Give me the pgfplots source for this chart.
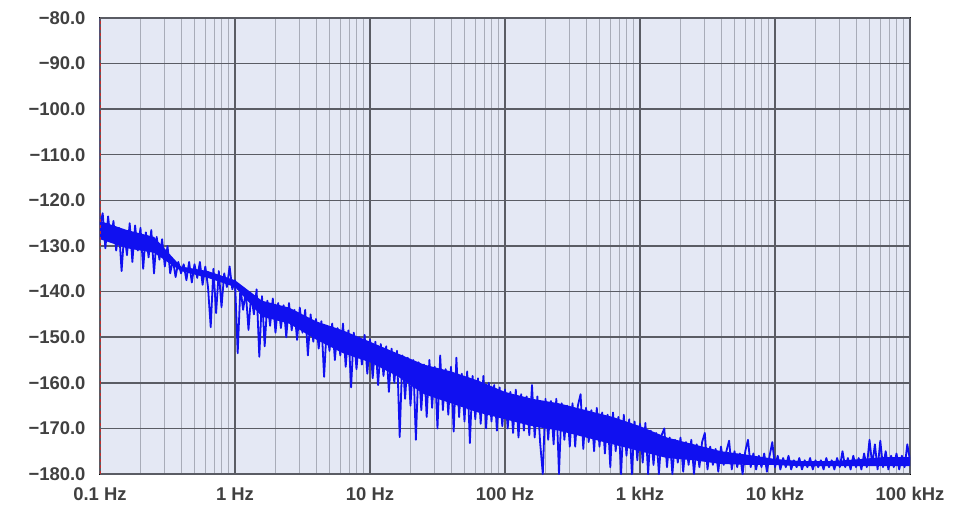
\documentclass[border=0pt]{standalone}
\usepackage{pgfplots}
\pgfplotsset{compat=1.18}
\usepackage{fontspec}
\setmainfont{Liberation Sans}
\definecolor{plotbg}{HTML}{E4E8F4}
\definecolor{majgrid}{HTML}{5A5C64}
\definecolor{mingrid}{HTML}{A8ACB8}
\definecolor{trace}{HTML}{1010F0}
\definecolor{markerred}{HTML}{C03030}

\begin{document}
\begin{tikzpicture}[x=1bp,y=1bp]
\begin{axis}[
    at={(0,0)}, anchor=south west,
    scale only axis,
    width=810bp, height=456bp,
    xmode=log, log basis x=10,
    xmin=0.1, xmax=100000,
    ymin=-180, ymax=-80,
    axis background/.style={fill=plotbg, draw=black, line width=1.8bp},
    axis line style={draw=none},
    xtick={0.1,1,10,100,1000,10000,100000},
    minor xtick={0.2,0.3,0.4,0.5,0.6,0.7,0.8,0.9,
                 2,3,4,5,6,7,8,9,
                 20,30,40,50,60,70,80,90,
                 200,300,400,500,600,700,800,900,
                 2000,3000,4000,5000,6000,7000,8000,9000,
                 20000,30000,40000,50000,60000,70000,80000,90000},
    xticklabels={0.1 Hz,1 Hz,10 Hz,100 Hz,1 kHz,10 kHz,100 kHz},
    ytick={-180,-170,...,-80},
    yticklabels={−180.0,−170.0,−160.0,−150.0,−140.0,−130.0,−120.0,−110.0,−100.0,−90.0,−80.0},
    tick label style={font=\fontsize{18.5}{20}\selectfont\bfseries, text=black!75},
    xticklabel style={yshift=-10bp},
    yticklabel style={xshift=-11bp},
    major tick length=0pt, minor tick length=0pt,
    xmajorgrids, ymajorgrids, xminorgrids,
    major grid style={majgrid, line width=1.4bp},
    minor grid style={mingrid, line width=0.9bp},
    /pgf/number format/assume math mode=true,
]
% dense core of the noise band (upper edge, then lower edge back)
\addplot[fill=trace, draw=none] table[row sep=\\, x expr=10^\thisrow{lx}, y=db] {
lx db\\
-1.0 -124.5\\ -0.8 -126.5\\ -0.6 -128\\ -0.4 -134.5\\ -0.2 -135.5\\ 0.0 -137.5\\
0.2 -142\\ 0.4 -143.5\\ 0.6 -146.5\\ 0.8 -148.5\\ 1.0 -151\\ 1.2 -153.5\\
1.4 -156\\ 1.6 -157.5\\ 1.8 -159.5\\ 2.0 -162\\ 2.2 -163.5\\ 2.4 -164.5\\
2.6 -166\\ 2.8 -167.5\\ 3.0 -169.5\\ 3.2 -172\\ 3.4 -173.5\\ 3.6 -175\\
3.8 -175.8\\ 4.0 -176.7\\ 4.2 -177.2\\ 4.4 -177.2\\ 4.6 -176.8\\ 4.8 -176.3\\ 5.0 -176.3\\
5.0 -178.3\\ 4.8 -178.3\\ 4.6 -178.3\\ 4.4 -178.3\\ 4.2 -178.3\\ 4.0 -178\\
3.8 -178\\ 3.6 -177.8\\ 3.4 -177\\ 3.2 -176.5\\ 3.0 -175\\ 2.8 -173.5\\
2.6 -172\\ 2.4 -170.5\\ 2.2 -169.5\\ 2.0 -168\\ 1.8 -166.5\\ 1.6 -164.5\\
1.4 -162.5\\ 1.2 -158.5\\ 1.0 -155.5\\ 0.8 -153.5\\ 0.6 -150.5\\ 0.4 -147\\
0.2 -145.5\\ 0.0 -139\\ -0.2 -137\\ -0.4 -135.5\\ -0.6 -131.5\\ -0.8 -130.5\\ -1.0 -128.5\\
} \closedcycle;
% measured noise spectrum, x given as log10(f / Hz)
\addplot[trace, line width=1.8bp, line join=round]
  table[row sep=\\, x expr=10^\thisrow{lx}, y=db] {
lx db\\
-1.00 -125.5\\ -0.98 -122.8\\ -0.96 -130.5\\ -0.94 -123.5\\ -0.92 -129.0\\
-0.90 -124.5\\ -0.88 -131.0\\ -0.86 -126.0\\ -0.84 -135.5\\ -0.82 -127.0\\
-0.80 -132.0\\ -0.78 -125.0\\ -0.76 -133.5\\ -0.74 -125.5\\ -0.72 -131.0\\
-0.70 -126.0\\ -0.68 -135.0\\ -0.66 -127.0\\ -0.64 -132.5\\ -0.62 -126.5\\
-0.60 -136.0\\ -0.58 -128.0\\ -0.56 -133.0\\ -0.54 -128.5\\ -0.52 -134.5\\
-0.50 -130.0\\ -0.48 -136.0\\ -0.46 -133.0\\ -0.44 -136.8\\ -0.42 -133.5\\
-0.40 -136.0\\ -0.38 -134.0\\ -0.36 -137.5\\ -0.34 -133.5\\ -0.32 -138.0\\
-0.30 -134.0\\ -0.28 -137.0\\ -0.26 -133.5\\ -0.24 -138.5\\ -0.22 -134.5\\
-0.20 -139.0\\ -0.18 -147.8\\ -0.16 -135.0\\ -0.14 -144.7\\ -0.12 -135.5\\
-0.10 -143.4\\ -0.08 -136.0\\ -0.06 -139.0\\ -0.04 -134.5\\ -0.02 -139.5\\
0.00 -137.5\\ 0.02 -153.5\\ 0.04 -139.0\\ 0.06 -144.0\\ 0.08 -140.0\\
0.10 -148.4\\ 0.12 -140.5\\ 0.14 -145.0\\ 0.16 -139.5\\ 0.18 -154.3\\
0.20 -141.0\\ 0.22 -152.0\\ 0.24 -142.0\\ 0.26 -147.5\\ 0.28 -141.5\\
0.30 -149.0\\ 0.32 -142.5\\ 0.34 -148.0\\ 0.36 -143.0\\ 0.38 -150.0\\
0.40 -142.5\\ 0.42 -148.5\\ 0.44 -144.0\\ 0.46 -150.6\\ 0.48 -143.5\\
0.50 -149.0\\ 0.52 -144.0\\ 0.54 -154.0\\ 0.56 -145.0\\ 0.58 -151.0\\
0.60 -146.0\\ 0.62 -152.5\\ 0.64 -146.5\\ 0.66 -158.7\\ 0.68 -147.5\\
0.70 -153.0\\ 0.72 -147.0\\ 0.74 -155.0\\ 0.76 -148.0\\ 0.78 -154.0\\
0.80 -147.0\\ 0.82 -156.5\\ 0.84 -148.5\\ 0.86 -161.0\\ 0.88 -149.0\\
0.90 -157.0\\ 0.92 -150.0\\ 0.94 -156.0\\ 0.96 -149.5\\ 0.98 -158.0\\
1.00 -150.5\\ 1.02 -159.0\\ 1.04 -151.0\\ 1.06 -160.5\\ 1.08 -151.5\\
1.10 -158.5\\ 1.12 -152.0\\ 1.14 -162.0\\ 1.16 -152.5\\ 1.18 -160.0\\
1.20 -153.0\\ 1.22 -171.9\\ 1.24 -154.0\\ 1.26 -163.5\\ 1.28 -154.5\\
1.30 -165.0\\ 1.32 -155.0\\ 1.34 -172.5\\ 1.36 -155.5\\ 1.38 -166.0\\
1.40 -156.0\\ 1.42 -167.5\\ 1.44 -155.0\\ 1.46 -165.5\\ 1.48 -156.5\\
1.50 -170.0\\ 1.52 -154.0\\ 1.54 -166.0\\ 1.56 -157.0\\ 1.58 -167.0\\
1.60 -156.5\\ 1.62 -170.7\\ 1.64 -154.5\\ 1.66 -167.5\\ 1.68 -158.0\\
1.70 -168.5\\ 1.72 -157.5\\ 1.74 -173.2\\ 1.76 -158.5\\ 1.78 -168.0\\
1.80 -159.0\\ 1.82 -169.0\\ 1.84 -158.5\\ 1.86 -170.0\\ 1.88 -160.0\\
1.90 -168.5\\ 1.92 -160.5\\ 1.94 -170.5\\ 1.96 -161.0\\ 1.98 -169.5\\
2.00 -161.5\\ 2.02 -170.0\\ 2.04 -162.0\\ 2.06 -171.0\\ 2.08 -161.5\\
2.10 -172.0\\ 2.12 -162.5\\ 2.14 -170.5\\ 2.16 -163.0\\ 2.18 -171.5\\
2.20 -160.5\\ 2.22 -172.0\\ 2.24 -163.0\\ 2.26 -173.0\\ 2.28 -180.0\\
2.30 -163.5\\ 2.32 -172.5\\ 2.34 -164.0\\ 2.36 -173.5\\ 2.38 -163.5\\
2.40 -180.0\\ 2.42 -164.5\\ 2.44 -172.5\\ 2.46 -165.0\\ 2.48 -174.0\\
2.50 -164.5\\ 2.52 -174.0\\ 2.54 -165.0\\ 2.56 -162.5\\ 2.58 -174.5\\
2.60 -165.5\\ 2.62 -173.0\\ 2.64 -166.0\\ 2.66 -175.0\\ 2.68 -165.5\\
2.70 -174.0\\ 2.72 -166.5\\ 2.74 -175.5\\ 2.76 -167.0\\ 2.78 -178.5\\
2.80 -166.5\\ 2.82 -175.0\\ 2.84 -167.5\\ 2.86 -180.0\\ 2.88 -167.0\\
2.90 -176.0\\ 2.92 -168.0\\ 2.94 -180.0\\ 2.96 -168.5\\ 2.98 -177.0\\
3.00 -169.0\\ 3.02 -177.5\\ 3.04 -168.8\\ 3.06 -180.0\\ 3.08 -170.5\\
3.10 -178.0\\ 3.12 -171.0\\ 3.14 -180.0\\ 3.16 -171.5\\ 3.18 -170.0\\
3.20 -178.5\\ 3.22 -172.0\\ 3.24 -180.0\\ 3.26 -172.5\\ 3.28 -177.5\\
3.30 -172.0\\ 3.32 -179.5\\ 3.34 -173.0\\ 3.36 -178.0\\ 3.38 -172.5\\
3.40 -180.0\\ 3.42 -173.5\\ 3.44 -178.5\\ 3.46 -173.0\\ 3.48 -171.0\\
3.50 -179.0\\ 3.52 -174.0\\ 3.54 -178.0\\ 3.56 -174.5\\ 3.58 -179.5\\
3.60 -174.0\\ 3.62 -178.0\\ 3.64 -175.0\\ 3.66 -172.7\\ 3.68 -179.0\\
3.70 -175.0\\ 3.72 -178.5\\ 3.74 -175.5\\ 3.76 -180.0\\ 3.78 -175.0\\
3.80 -172.5\\ 3.82 -178.5\\ 3.84 -175.5\\ 3.86 -179.0\\ 3.88 -176.0\\
3.90 -178.5\\ 3.92 -175.5\\ 3.94 -179.5\\ 3.96 -176.0\\ 3.98 -173.0\\
4.00 -178.5\\ 4.02 -176.0\\ 4.04 -179.0\\ 4.06 -176.5\\ 4.08 -178.5\\
4.10 -176.0\\ 4.12 -179.0\\ 4.14 -177.0\\ 4.16 -178.5\\ 4.18 -176.5\\
4.20 -179.0\\ 4.22 -177.0\\ 4.24 -178.5\\ 4.26 -176.5\\ 4.28 -179.0\\
4.30 -177.0\\ 4.32 -178.5\\ 4.34 -177.0\\ 4.36 -179.0\\ 4.38 -176.5\\
4.40 -178.5\\ 4.42 -177.0\\ 4.44 -179.0\\ 4.46 -176.5\\ 4.48 -178.5\\
4.50 -175.0\\ 4.52 -178.5\\ 4.54 -176.5\\ 4.56 -179.0\\ 4.58 -176.0\\
4.60 -178.5\\ 4.62 -176.5\\ 4.64 -179.0\\ 4.66 -175.5\\ 4.68 -178.5\\
4.70 -172.5\\ 4.72 -178.0\\ 4.74 -173.5\\ 4.76 -179.0\\ 4.78 -172.7\\
4.80 -178.5\\ 4.82 -175.0\\ 4.84 -179.0\\ 4.86 -176.0\\ 4.88 -178.5\\
4.90 -175.5\\ 4.92 -179.0\\ 4.94 -176.0\\ 4.96 -178.5\\ 4.98 -173.5\\
5.00 -177.0\\
};
% red dashed marker at the start frequency, over the left frame edge
\addplot[markerred, dash pattern=on 3bp off 3bp, line width=1.8bp] coordinates {(0.1,-180) (0.1,-80)};
\end{axis}
\useasboundingbox (-100bp,-33bp) rectangle (860bp,474bp);
\end{tikzpicture}
\end{document}
